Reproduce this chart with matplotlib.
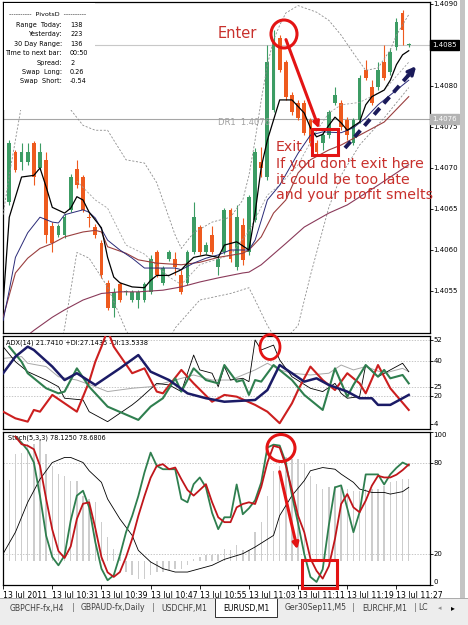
import numpy as np
import matplotlib
matplotlib.use('Agg')
import matplotlib.pyplot as plt
from matplotlib.patches import Rectangle, Ellipse, FancyArrowPatch
from matplotlib.transforms import blended_transform_factory

plt.rcParams['font.family'] = 'DejaVu Sans'
plt.rcParams['font.size'] = 5

# --- EURUSD,M1 candles, bar 0 = 13 Jul 10:24 ---
opens = [1.40658, 1.40719, 1.40707, 1.40707, 1.40730, 1.40700, 1.40710, 1.40629, 1.40618, 1.40618,
         1.40649, 1.40699, 1.40689, 1.40640, 1.40628, 1.40608, 1.40560, 1.40529, 1.40559, 1.40549,
         1.40539, 1.40539, 1.40539, 1.40549, 1.40597, 1.40560, 1.40589, 1.40589, 1.40569, 1.40560,
         1.40597, 1.40628, 1.40597, 1.40618, 1.40579, 1.40597, 1.40649, 1.40579, 1.40630, 1.40597,
         1.40636, 1.40707, 1.40689, 1.40771, 1.40859, 1.40829, 1.40789, 1.40779, 1.40779, 1.40758,
         1.40730, 1.40730, 1.40740, 1.40779, 1.40779, 1.40758, 1.40730, 1.40758, 1.40820, 1.40799,
         1.40799, 1.40829, 1.40817, 1.40848, 1.40889, 1.40850]
highs = [1.40734, 1.40722, 1.40730, 1.40730, 1.40733, 1.40730, 1.40719, 1.40634, 1.40632, 1.40644,
         1.40693, 1.40710, 1.40691, 1.40645, 1.40632, 1.40612, 1.40563, 1.40554, 1.40561, 1.40551,
         1.40551, 1.40551, 1.40561, 1.40594, 1.40600, 1.40580, 1.40600, 1.40597, 1.40576, 1.40600,
         1.40658, 1.40630, 1.40610, 1.40629, 1.40591, 1.40651, 1.40651, 1.40655, 1.40639, 1.40667,
         1.40724, 1.40726, 1.40850, 1.40868, 1.40862, 1.40832, 1.40793, 1.40783, 1.40783, 1.40761,
         1.40734, 1.40744, 1.40771, 1.40799, 1.40783, 1.40762, 1.40761, 1.40813, 1.40832, 1.40807,
         1.40829, 1.40850, 1.40846, 1.40883, 1.40893, 1.40853]
lows = [1.40655, 1.40695, 1.40697, 1.40704, 1.40679, 1.40697, 1.40608, 1.40597, 1.40616, 1.40615,
        1.40646, 1.40676, 1.40646, 1.40628, 1.40615, 1.40566, 1.40527, 1.40518, 1.40537, 1.40545,
        1.40537, 1.40529, 1.40537, 1.40546, 1.40567, 1.40557, 1.40587, 1.40569, 1.40546, 1.40557,
        1.40595, 1.40594, 1.40595, 1.40595, 1.40569, 1.40595, 1.40585, 1.40576, 1.40582, 1.40594,
        1.40634, 1.40689, 1.40685, 1.40768, 1.40817, 1.40783, 1.40765, 1.40758, 1.40740, 1.40727,
        1.40716, 1.40722, 1.40737, 1.40777, 1.40746, 1.40734, 1.40728, 1.40755, 1.40807, 1.40777,
        1.40795, 1.40807, 1.40813, 1.40844, 1.40850, 1.40848]
closes = [1.40730, 1.40697, 1.40719, 1.40719, 1.40689, 1.40719, 1.40618, 1.40608, 1.40629, 1.40640,
          1.40689, 1.40679, 1.40649, 1.40639, 1.40618, 1.40569, 1.40529, 1.40549, 1.40539, 1.40550,
          1.40549, 1.40549, 1.40559, 1.40589, 1.40569, 1.40578, 1.40597, 1.40579, 1.40549, 1.40597,
          1.40640, 1.40597, 1.40606, 1.40597, 1.40589, 1.40649, 1.40589, 1.40640, 1.40588, 1.40665,
          1.40719, 1.40700, 1.40829, 1.40856, 1.40820, 1.40787, 1.40768, 1.40761, 1.40743, 1.40730,
          1.40719, 1.40740, 1.40768, 1.40789, 1.40750, 1.40740, 1.40758, 1.40810, 1.40810, 1.40779,
          1.40820, 1.40810, 1.40841, 1.40878, 1.40868, 1.40850]

bid_price = 1.4085
dr1_price = 1.4076
price_ticks = [1.4055, 1.4060, 1.4065, 1.4070, 1.4075, 1.4080, 1.4090]

# moving averages on the price window (bar, price)
ma_fast_bars = [-1, 0, 2, 4, 5, 6, 7, 9, 10, 11, 12, 13, 15, 16, 17, 18, 20, 22, 23, 24,
                26, 28, 29, 30, 32, 34, 35, 37, 39, 40, 41, 42, 44, 46, 48, 49, 50, 51, 52, 53,
                54, 55, 57, 58, 59, 61, 62, 63, 64, 65]
ma_fast = [1.40535, 1.40640, 1.40689, 1.40691, 1.40700, 1.40677, 1.40652, 1.40645, 1.40651, 1.40665,
           1.40661, 1.40646, 1.40627, 1.40591, 1.40567, 1.40560, 1.40555, 1.40554, 1.40563, 1.40569,
           1.40569, 1.40576, 1.40584, 1.40591, 1.40594, 1.40591, 1.40606, 1.40610, 1.40600, 1.40645,
           1.40701, 1.40734, 1.40783, 1.40783, 1.40767, 1.40749, 1.40738, 1.40741, 1.40752, 1.40762,
           1.40755, 1.40746, 1.40756, 1.40777, 1.40787, 1.40795, 1.40807, 1.40826, 1.40838, 1.40843]
ma_mid_bars = [-1, 0, 1, 3, 5, 7, 8, 9, 12, 13, 14, 16, 18, 20, 22, 25, 27, 28, 30, 32,
               34, 36, 39, 40, 41, 42, 44, 47, 49, 51, 54, 56, 58, 60, 63, 65]
ma_mid = [1.40514, 1.40551, 1.40591, 1.40621, 1.40640, 1.40634, 1.40633, 1.40643, 1.40649, 1.40646,
          1.40639, 1.40612, 1.40600, 1.40590, 1.40578, 1.40578, 1.40578, 1.40576, 1.40584, 1.40590,
          1.40594, 1.40600, 1.40600, 1.40612, 1.40636, 1.40661, 1.40679, 1.40718, 1.40740, 1.40744,
          1.40743, 1.40749, 1.40761, 1.40777, 1.40795, 1.40807]
ma_slow_bars = [-1, 1, 3, 5, 7, 9, 12, 14, 15, 16, 19, 21, 24, 28, 31, 34, 38, 39, 41, 43,
                45, 47, 49, 52, 54, 57, 61, 65]
ma_slow = [1.40518, 1.40572, 1.40590, 1.40602, 1.40608, 1.40616, 1.40622, 1.40624, 1.40622, 1.40604,
           1.40596, 1.40588, 1.40584, 1.40582, 1.40585, 1.40591, 1.40596, 1.40600, 1.40616, 1.40645,
           1.40661, 1.40694, 1.40710, 1.40722, 1.40728, 1.40740, 1.40756, 1.40787]
ma_long_bars = [2, 4, 7, 9, 12, 15, 18, 21, 25, 28, 31, 34, 38, 39, 41, 45, 48, 52, 55, 60, 65]
ma_long = [1.40490, 1.40502, 1.40518, 1.40527, 1.40539, 1.40547, 1.40549, 1.40549, 1.40551, 1.40555,
           1.40561, 1.40566, 1.40572, 1.40573, 1.40582, 1.40608, 1.40628, 1.40645, 1.40655, 1.40679,
           1.40704]

# bollinger bands (dashed)
bb_up_bars = [-1, 0, 1, 2, 3, 5, 8, 10, 12, 14, 16, 19, 22, 24, 27, 28, 30, 33, 36, 38,
              39, 40, 41, 42, 43, 44, 45, 47, 50, 52, 54, 56, 58, 60, 62, 63, 65]
bb_up = [1.40643, 1.40691, 1.40734, 1.40777, 1.40813, 1.40832, 1.40807, 1.40771, 1.40752, 1.40746,
         1.40746, 1.40710, 1.40706, 1.40682, 1.40618, 1.40602, 1.40621, 1.40634, 1.40640, 1.40661,
         1.40691, 1.40734, 1.40783, 1.40826, 1.40856, 1.40874, 1.40889, 1.40898, 1.40890, 1.40880,
         1.40862, 1.40840, 1.40819, 1.40822, 1.40844, 1.40862, 1.40887]
bb_mid_bars = [11, 14, 16, 19, 22, 26, 28, 31, 36, 39, 42, 44, 47, 50, 52, 54, 57, 61, 65]
bb_mid = [1.40684, 1.40661, 1.40651, 1.40606, 1.40595, 1.40567, 1.40558, 1.40582, 1.40594, 1.40623,
          1.40667, 1.40679, 1.40704, 1.40745, 1.40767, 1.40777, 1.40780, 1.40795, 1.40829]
bb_lo_bars = [8, 9, 11, 13, 16, 19, 21, 26, 27, 31, 36, 39, 40, 42, 44, 47, 49, 52, 54, 57, 61, 65]
bb_lo = [1.40470, 1.40505, 1.40597, 1.40590, 1.40555, 1.40502, 1.40478, 1.40490, 1.40505, 1.40539,
         1.40547, 1.40554, 1.40539, 1.40508, 1.40484, 1.40508, 1.40569, 1.40652, 1.40691, 1.40728,
         1.40761, 1.40798]

# ADX(14) window
adx_bars = [-1, 1, 3, 4, 7, 9, 11, 14, 18, 21, 23, 26, 29, 32, 35, 40, 42, 44, 46, 48,
            50, 52, 55, 57, 59, 60, 62, 65]
adx_vals = [33.0, 42.5, 48.2, 46.3, 36.8, 29.1, 33.0, 26.3, 35.8, 43.4, 33.9, 29.1, 21.5, 18.7,
            16.7, 17.7, 23.4, 37.7, 33.0, 28.2, 30.1, 26.3, 22.5, 18.7, 18.7, 14.9, 14.9, 20.6]
pdi_bars = [0, 2, 3, 6, 8, 9, 11, 13, 16, 21, 23, 25, 27, 28, 30, 32, 34, 35, 37, 38,
            39, 40, 41, 43, 46, 48, 51, 53, 55, 56, 58, 60, 61, 62, 64, 65]
pdi_vals = [48.2, 39.6, 33.0, 24.4, 21.5, 22.5, 35.8, 25.3, 13.9, 6.3, 13.9, 18.7, 30.1, 22.5,
            35.8, 29.1, 27.2, 37.7, 28.2, 29.1, 20.6, 29.1, 28.2, 37.7, 29.1, 20.6, 12.0, 35.8,
            19.6, 26.3, 37.7, 31.0, 34.9, 30.1, 32.0, 27.2]
mdi_bars = [-1, 1, 3, 4, 5, 7, 9, 11, 13, 14, 15, 16, 17, 20, 22, 24, 25, 28, 30, 33,
            35, 37, 40, 42, 44, 46, 47, 49, 51, 53, 55, 57, 58, 60, 62, 65]
mdi_vals = [11.0, 7.2, 5.3, 12.0, 11.0, 20.6, 15.8, 11.0, 28.2, 39.6, 48.2, 57.7, 48.2, 33.0,
            35.8, 22.5, 21.5, 34.9, 27.2, 16.7, 20.6, 19.6, 14.9, 11.0, 4.4, 15.8, 23.4, 36.8,
            29.1, 23.4, 33.0, 27.2, 21.5, 37.7, 24.4, 12.0]
adxb_bars = [-1, 1, 3, 6, 8, 9, 12, 13, 16, 18, 20, 21, 24, 26, 28, 30, 31, 33, 34, 35,
             36, 38, 39, 40, 41, 43, 44, 46, 49, 51, 53, 54, 55, 57, 58, 60, 62, 64, 65]
adxb_vals = [48.2, 39.6, 33.9, 29.1, 25.3, 18.7, 17.7, 11.0, 5.3, 10.1, 14.9, 17.7, 27.2, 26.3,
             22.5, 43.4, 34.9, 33.0, 25.3, 36.8, 29.1, 30.1, 28.2, 52.0, 46.3, 49.1, 40.6, 31.0,
             24.4, 22.5, 27.2, 21.5, 18.7, 19.6, 37.7, 31.0, 34.9, 38.7, 33.9]
adxg_bars = [-1, 2, 3, 6, 8, 11, 14, 16, 20, 23, 27, 30, 33, 36, 40, 42, 44, 46, 49, 52,
             54, 56, 58, 61, 64, 65]
adxg_vals = [41.5, 42.5, 38.7, 36.8, 31.0, 29.1, 25.3, 22.5, 24.4, 25.3, 29.1, 32.0, 29.1, 29.1,
             34.9, 38.7, 34.9, 33.0, 32.0, 33.0, 37.7, 34.9, 36.8, 33.0, 35.8, 33.9]
adx_levels = [52, 40, 25, 20]
adx_labels = [52, 40, 25, 20, 4]

# Stoch(5,3,3) window, bars 1..65
stoch_k = [97.0, 93.0, 88.0, 80.0, 58.0, 32.0, 18.0, 12.6, 19.1, 42.0, 58.3, 61.5, 50.6, 27.8,
           10.4, 2.8, 6.1, 19.1, 34.3, 45.0, 58.0, 73.5, 86.5, 77.8, 75.6, 75.6, 75.6, 56.1,
           53.9, 65.8, 70.2, 63.7, 47.0, 36.3, 44.1, 44.1, 65.6, 46.1, 50.0, 55.2, 67.0, 89.8,
           91.7, 91.1, 80.0, 58.5, 40.0, 20.0, 5.0, 1.7, 10.0, 38.9, 63.7, 65.0, 50.0, 34.3,
           47.4, 72.2, 72.2, 72.2, 65.6, 72.2, 76.5, 80.0, 78.1]
stoch_d = [97.0, 92.0, 91.0, 88.7, 77.8, 56.1, 36.0, 22.0, 17.4, 25.0, 43.0, 53.0, 53.9, 37.0,
           18.0, 8.0, 5.0, 8.2, 18.0, 30.0, 45.0, 58.0, 70.0, 77.8, 78.9, 75.6, 76.7, 69.1,
           62.0, 58.3, 62.0, 65.8, 54.0, 44.1, 40.9, 40.9, 50.6, 52.8, 53.9, 52.8, 64.0, 80.0,
           90.9, 89.8, 78.0, 62.0, 45.0, 34.3, 17.0, 9.0, 3.9, 12.0, 30.0, 52.8, 59.3, 50.6,
           47.4, 55.0, 64.8, 71.3, 70.2, 70.2, 72.0, 75.0, 78.7]
slow_bars = [-1, 1, 3, 5, 7, 9, 10, 12, 13, 15, 16, 18, 20, 21, 23, 25, 27, 29, 31, 33,
             35, 38, 40, 43, 44, 46, 48, 49, 51, 53, 54, 56, 57, 59, 61, 62, 64, 65]
slow_vals = [20.2, 34.3, 53.9, 69.1, 80.0, 83.3, 83.3, 80.0, 74.6, 67.0, 56.1, 43.0, 32.2, 22.4,
             14.8, 10.4, 8.2, 8.2, 10.4, 12.6, 16.5, 20.2, 24.6, 32.2, 45.2, 58.3, 68.1, 74.6,
             76.7, 75.6, 72.4, 67.0, 62.6, 60.4, 60.4, 59.3, 60.9, 63.7]
# grey histogram, bars -1..65, around its zero line
hist_zero = 15.5
hist_vals = [50.0, 68.3, 85.4, 86.5, 91.9, 91.9, 95.2, 85.4, 77.8, 72.4, 71.3, 68.1, 68.1, 58.3,
             56.1, 53.9, 40.9, 31.1, 23.4, 18.0, 8.2, 6.1, 3.9, 3.9, 6.1, 8.2, 8.2, 9.5, 10.4,
             10.4, 12.8, 16.9, 18.0, 19.1, 19.1, 20.2, 23.4, 22.4, 25.7, 22.4, 22.4, 34.3, 40.9,
             58.3, 74.6, 77.8, 83.3, 82.2, 82.2, 78.9, 71.3, 65.8, 62.6, 63.7, 64.8, 63.7, 62.6,
             61.5, 61.5, 62.6, 62.6, 62.6, 64.8, 67.0, 68.1, 69.1, 69.1]
stoch_levels = [80, 20]

time_labels = ['13 Jul 2011', '13 Jul 10:31', '13 Jul 10:39', '13 Jul 10:47', '13 Jul 10:55',
               '13 Jul 11:03', '13 Jul 11:11', '13 Jul 11:19', '13 Jul 11:27']
first_label_bar = -1
label_step = 8

pivots_rows = [('Range  Today:', '138'), ('Yesterday:', '223'), ('30 Day Range:', '136'),
               ('Time to next bar:', '00:50'), ('Spread:', '2'), ('Swap  Long:', '0.26'),
               ('Swap  Short:', '-0.54')]
tabs = ['GBPCHF-fx,H4', 'GBPAUD-fx,Daily', 'USDCHF,M1', 'EURUSD,M1', 'Ger30Sep11,M5',
        'EURCHF,M1', 'LC']

UP = '#3c9c64'
DOWN = '#ee5a1e'
ANN = '#e31414'
ANN_TXT = '#c8302c'

W, H = 468, 625
fig = plt.figure(figsize=(W / 100, H / 100), dpi=100)
fig.patch.set_facecolor('white')


def px_axes(left, top, right, bottom):
    a = fig.add_axes([left / W, 1 - bottom / H, (right - left) / W, (bottom - top) / H])
    a.set_xlim(-1.02, 68.46)
    for s in a.spines.values():
        s.set_linewidth(0.9)
        s.set_color('black')
    a.yaxis.tick_right()
    a.tick_params(axis='y', direction='out', length=2, width=0.6, labelright=False)
    a.tick_params(axis='x', bottom=False, labelbottom=False)
    return a


def right_labels(a, values, fmt, va_map=None):
    tr = blended_transform_factory(a.transAxes, a.transData)
    for v in values:
        va = (va_map or {}).get(v, 'center')
        a.text(1.008, v, fmt.format(v), transform=tr, fontsize=5, va=va, ha='left')


ax = px_axes(3, 2, 430, 333)
ax_adx = px_axes(3, 336, 430, 429)
ax_st = px_axes(3, 432, 430, 585)

# ---- price panel ----
ax.set_ylim(1.404988, 1.409024)
ax.axhline(bid_price, color='#c8c8c8', lw=0.8, zorder=1)
ax.axhline(dr1_price, color='#a6a6a6', lw=0.8, zorder=1)
ax.text(34.0, dr1_price - 0.00005, 'DR1  1.4076', color='#a0a0a0', fontsize=6, va='center')

o = np.array(opens); c = np.array(closes)
xb = np.arange(len(opens))
cols = [UP if cc >= oo else DOWN for oo, cc in zip(o, c)]
ax.vlines(xb, lows, highs, colors=cols, lw=0.8, zorder=2)
ax.bar(xb, np.maximum(np.abs(c - o), 0.000012), bottom=np.minimum(o, c), width=0.62,
       color=cols, zorder=2)

dash = (0, (2.5, 2))
ax.plot(bb_up_bars, bb_up, color='#8c8c8c', lw=0.6, ls=dash, zorder=3)
ax.plot(bb_mid_bars, bb_mid, color='#a0a0a0', lw=0.6, ls=dash, zorder=3)
ax.plot(bb_lo_bars, bb_lo, color='#8c8c8c', lw=0.6, ls=dash, zorder=3)
ax.plot(ma_long_bars, ma_long, color='#8a3a5a', lw=0.8, zorder=3)
ax.plot(ma_slow_bars, ma_slow, color='#9a3f3f', lw=0.8, zorder=3)
ax.plot(ma_mid_bars, ma_mid, color='#2a2a78', lw=0.7, zorder=3)
ax.plot(ma_fast_bars, ma_fast, color='black', lw=0.9, zorder=4)

ax.set_yticks(price_ticks)
right_labels(ax, price_ticks, '{:.4f}')
trp = blended_transform_factory(ax.transAxes, ax.transData)
ax.text(1.006, bid_price, '1.4085', transform=trp, color='white', fontsize=5, va='center',
        ha='left', bbox=dict(boxstyle='square,pad=0.3', fc='black', ec='black'))
ax.text(1.006, dr1_price, '1.4076', transform=trp, color='white', fontsize=5, va='center',
        ha='left', bbox=dict(boxstyle='square,pad=0.3', fc='#b4b4b4', ec='#b4b4b4'))

# ---- ADX panel ----
ax_adx.set_ylim(1.1, 54.3)
for lv in adx_levels:
    ax_adx.axhline(lv, color='#b0b0b0', lw=0.5, ls=(0, (2, 2)), zorder=1)
ax_adx.plot(adxg_bars, adxg_vals, color='#a8a8a8', lw=0.7, zorder=2)
ax_adx.plot(adxb_bars, adxb_vals, color='black', lw=0.6, zorder=3)
ax_adx.plot(mdi_bars, mdi_vals, color='#cc1f1f', lw=1.5, zorder=4)
ax_adx.plot(pdi_bars, pdi_vals, color='#2f7f4f', lw=1.5, zorder=4)
ax_adx.plot(adx_bars, adx_vals, color='#1b1b66', lw=1.8, zorder=5)
ax_adx.set_yticks(adx_labels)
right_labels(ax_adx, adx_labels, '{}')
ax_adx.text(0.008, 0.925, 'ADX(14) 21.7410 +DI:27.1435 -DI:13.5338', transform=ax_adx.transAxes,
            fontsize=4.8, va='center')

# ---- Stochastic panel ----
ax_st.set_ylim(-0.3, 100)
for lv in stoch_levels:
    ax_st.axhline(lv, color='#b0b0b0', lw=0.5, ls=(0, (2, 2)), zorder=1)
hb = np.arange(-1, len(hist_vals) - 1)
hv = np.array(hist_vals)
ax_st.bar(hb, hv - hist_zero, bottom=hist_zero, width=0.24, color='#cdcdcd', zorder=1)
ax_st.plot(slow_bars, slow_vals, color='black', lw=0.6, zorder=2)
kb = np.arange(1, len(stoch_k) + 1)
ax_st.plot(kb, stoch_k, color='#2f7f4f', lw=1.3, zorder=3)
ax_st.plot(kb, stoch_d, color='#c0161b', lw=1.3, zorder=4)
ax_st.set_yticks([0, 20, 80, 100])
right_labels(ax_st, [0, 20, 80, 100], '{}', {0: 'bottom', 100: 'top'})
ax_st.text(0.012, 0.96, 'Stoch(5,3,3) 78.1250 78.6806', transform=ax_st.transAxes,
           fontsize=4.7, va='center')

tick_bars = [first_label_bar + label_step * k for k in range(len(time_labels))]
ax_st.tick_params(axis='x', bottom=True, labelbottom=True, length=3, width=0.6, pad=1,
                  labelsize=5.6)
ax_st.set_xticks(tick_bars)
ax_st.set_xticklabels(time_labels, ha='left')

# ---- overlay: info box, annotations, terminal tabs ----
ov = fig.add_axes([0, 0, 1, 1], zorder=10)
ov.set_xlim(0, W)
ov.set_ylim(H, 0)
ov.axis('off')

ov.add_patch(Rectangle((4, 3), 91, 107, fc='white', ec='none'))
ov.text(48, 15, '----------  PivotsD  ----------', fontsize=4.6, ha='center', va='center')
for k, (lab, val) in enumerate(pivots_rows):
    yy = 25 + k * 9.4
    ov.text(62, yy, lab, fontsize=4.7, ha='right', va='center')
    ov.text(70, yy, val, fontsize=4.7, ha='left', va='center')

# right frame strip
ov.add_patch(Rectangle((460, 0), 5, 598, fc='#c4c4c4', ec='none'))

# red annotations
ov.add_patch(Ellipse((284, 34), 26, 28, fc='none', ec=ANN, lw=2.2))
ov.add_patch(FancyArrowPatch((285, 37), (320, 131), arrowstyle='-|>', mutation_scale=9,
                             color=ANN, lw=2.2))
ov.add_patch(Rectangle((312, 129), 26, 26, fc='none', ec=ANN, lw=2.2))
ov.text(218, 34, 'Enter', color=ANN_TXT, fontsize=10.5, va='center', ha='left')
ov.text(276, 147, 'Exit', color=ANN_TXT, fontsize=10.2, va='center', ha='left')
ov.text(276, 157, "If you don't exit here\nit could be too late\nand your profit smelts",
        color=ANN_TXT, fontsize=10.2, va='top', ha='left', linespacing=1.15)

ov.add_patch(Ellipse((270, 347), 20, 25, fc='none', ec=ANN, lw=2.0))
ov.add_patch(Ellipse((281, 448), 28, 27, fc='none', ec=ANN, lw=2.2))
ov.add_patch(FancyArrowPatch((279, 469), (298, 552), arrowstyle='-|>', mutation_scale=9,
                             color=ANN, lw=2.2))
ov.add_patch(Rectangle((302, 560), 35, 28, fc='none', ec=ANN, lw=2.2))

# navy trend arrow
ov.plot([345, 413], [148, 70], color='#1a1a5a', lw=2.8, ls=(0, (2.2, 1.6)),
        solid_capstyle='butt')
ov.add_patch(FancyArrowPatch((406, 78), (418, 64), arrowstyle='->', mutation_scale=11,
                             color='#1a1a5a', lw=2.6))

# terminal tab bar
ov.add_patch(Rectangle((0, 598), W, 27, fc='#ededed', ec='none'))
ov.plot([0, W], [598, 598], color='#a0a0a0', lw=0.6)
ov.add_patch(Rectangle((215, 598), 62, 19, fc='white', ec='#303030', lw=0.7))
tab_left = [10, 81, 161, 223, 285, 362, 418]
for name, tx in zip(tabs, tab_left):
    ov.text(tx, 608, name, fontsize=5.6, va='center', ha='left',
            color='black' if name == 'EURUSD,M1' else '#404040')
for sx in [73, 153, 353, 415]:
    ov.text(sx, 608, '|', fontsize=6, va='center', ha='center', color='#707070')
ov.text(440, 608, '◂', fontsize=5, va='center', ha='center', color='#909090')
ov.text(453, 608, '▸', fontsize=5.5, va='center', ha='center', color='black')

fig.savefig('out.png', dpi=100)
